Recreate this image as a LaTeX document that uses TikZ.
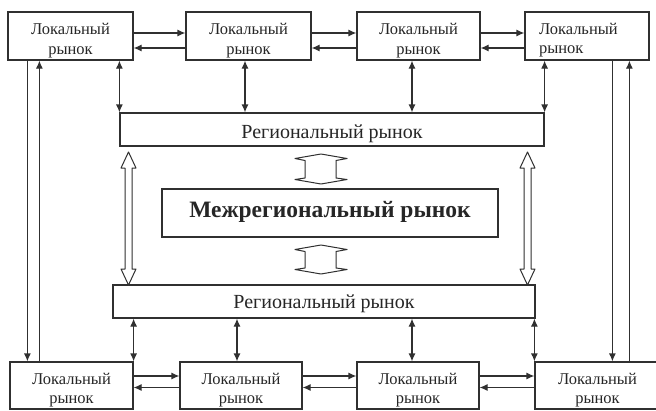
\documentclass[tikz,border=0pt]{standalone}
\usepackage{fontspec}
\setmainfont{Liberation Serif}
\usetikzlibrary{arrows.meta,calc}
\definecolor{ln}{HTML}{303030}
\definecolor{tx}{HTML}{262626}
\begin{document}
\begin{tikzpicture}[x=1pt,y=-1pt,
  box/.style={draw=ln, line width=1.2pt, fill=white, inner sep=0pt, align=center, text=tx,
    font=\fontsize{16.5}{19.5}\selectfont},
  locbox/.style={box, minimum height=48pt, text height=36pt, text depth=0pt},
  lowbox/.style={box, minimum height=47pt, text height=36pt, text depth=0pt},
  regbox/.style={box, minimum height=33pt, font=\fontsize{20}{24}\selectfont, text depth=0pt},
  arr/.style={draw=ln, line width=1.2pt, -{Latex[length=8pt,width=7pt]}},
  dar/.style={draw=ln, line width=1.2pt, {Latex[length=8pt,width=7pt]}-{Latex[length=8pt,width=7pt]}},
  hol/.style={draw=ln, line width=1pt, fill=white, line join=round}]
\clip (0,0) rectangle (656,410);
\fill[white] (0,0) rectangle (656,410);

% top local markets
\node[locbox, minimum width=125pt] (T1) at (70.5,36) {Локальный\\рынок};
\node[locbox, minimum width=125pt] (T2) at (248.5,36) {Локальный\\рынок};
\node[locbox, minimum width=123pt] (T3) at (418.5,36) {Локальный\\рынок};
\node[box, minimum height=48pt, minimum width=124pt, text width=96pt, align=left,
  text height=14pt, text depth=18pt] (T4) at (587,36) {Локальный\\рынок};

% regional / interregional
\node[regbox, minimum width=424pt, text height=17pt] (R1) at (332,129.5) {Региональный рынок};
\node[box, minimum width=336pt, minimum height=48pt, text height=8pt, text depth=0pt,
  font=\fontsize{23.5}{28}\selectfont\bfseries] (M) at (330,213) {Межрегиональный рынок};
\node[regbox, minimum width=422pt, text height=14pt] (R2) at (324,301.5) {Региональный рынок};

% bottom local markets
\node[lowbox, minimum width=123pt] (B1) at (71.5,385.5) {Локальный\\рынок};
\node[lowbox, minimum width=122pt] (B2) at (241,385.5) {Локальный\\рынок};
\node[lowbox, minimum width=122pt] (B3) at (418,385.5) {Локальный\\рынок};
\node[lowbox, minimum width=125pt] (B4) at (597.5,385.5) {Локальный\\рынок};

% horizontal arrows, top row
\draw[arr] ([yshift=3pt]T1.east) -- ([yshift=3pt]T2.west);
\draw[arr] ([yshift=-12pt]T2.west) -- ([yshift=-12pt]T1.east);
\draw[arr] ([yshift=3pt]T2.east) -- ([yshift=3pt]T3.west);
\draw[arr] ([yshift=-12pt]T3.west) -- ([yshift=-12pt]T2.east);
\draw[arr] ([yshift=3pt]T3.east) -- ([yshift=3pt]T4.west);
\draw[arr] ([yshift=-12pt]T4.west) -- ([yshift=-12pt]T3.east);

% horizontal arrows, bottom row
\draw[arr] ([yshift=9.5pt]B1.east) -- ([yshift=9.5pt]B2.west);
\draw[arr] ([yshift=-2pt]B2.west) -- ([yshift=-2pt]B1.east);
\draw[arr] ([yshift=9.5pt]B2.east) -- ([yshift=9.5pt]B3.west);
\draw[arr] ([yshift=-2pt]B3.west) -- ([yshift=-2pt]B2.east);
\draw[arr] ([yshift=9.5pt]B3.east) -- ([yshift=9.5pt]B4.west);
\draw[arr] ([yshift=-2pt]B4.west) -- ([yshift=-2pt]B3.east);

% vertical arrows top
\draw[dar] (R1.north west) -- (R1.north west |- T1.south);
\draw[dar] ([xshift=-3.5pt]T2.south) -- ([xshift=-3.5pt]T2.south |- R1.north);
\draw[dar] ([xshift=-6.5pt]T3.south) -- ([xshift=-6.5pt]T3.south |- R1.north);
\draw[dar] (R1.north east) -- (R1.north east |- T4.south);

% vertical arrows bottom
\draw[dar] (B1.north east) -- (B1.north east |- R2.south);
\draw[dar] ([xshift=-4pt]B2.north) -- ([xshift=-4pt]B2.north |- R2.south);
\draw[dar] ([xshift=-6pt]B3.north) -- ([xshift=-6pt]B3.north |- R2.south);
\draw[dar] (B4.north west) -- (B4.north west |- R2.south);

% long lines
\draw[arr] ([xshift=20pt]T1.south west) -- ([xshift=20pt]T1.south west |- B1.north);
\draw[arr] ([xshift=32pt]T1.south west |- B1.north) -- ([xshift=32pt]T1.south west);
\draw[arr] ([xshift=88pt]T4.south west) -- ([xshift=88pt]T4.south west |- B4.north);
\draw[arr] ([xshift=105pt]T4.south west |- B4.north) -- ([xshift=105pt]T4.south west);

% hollow long double arrows
\draw[hol] (128.5,152) -- (136,168) -- (132,168) -- (132,269) -- (136,269) -- (128.5,285)
  -- (121,269) -- (125,269) -- (125,168) -- (121,168) -- cycle;
\draw[hol] (527.5,152) -- (535,168) -- (531,168) -- (531,269) -- (535,269) -- (527.5,285)
  -- (520,269) -- (524,269) -- (524,168) -- (520,168) -- cycle;

% small flat double arrows
\draw[hol] (321,154) -- (347,158.5) -- (336,160.5) -- (336,178) -- (347,179.5) -- (321,184)
  -- (295,179.5) -- (305,178) -- (305,160.5) -- (295,158.5) -- cycle;
\draw[hol] (321,245) -- (347,249.5) -- (336,251.5) -- (336,268) -- (347,269.5) -- (321,274)
  -- (295,269.5) -- (305,268) -- (305,251.5) -- (295,249.5) -- cycle;
\end{tikzpicture}
\end{document}
